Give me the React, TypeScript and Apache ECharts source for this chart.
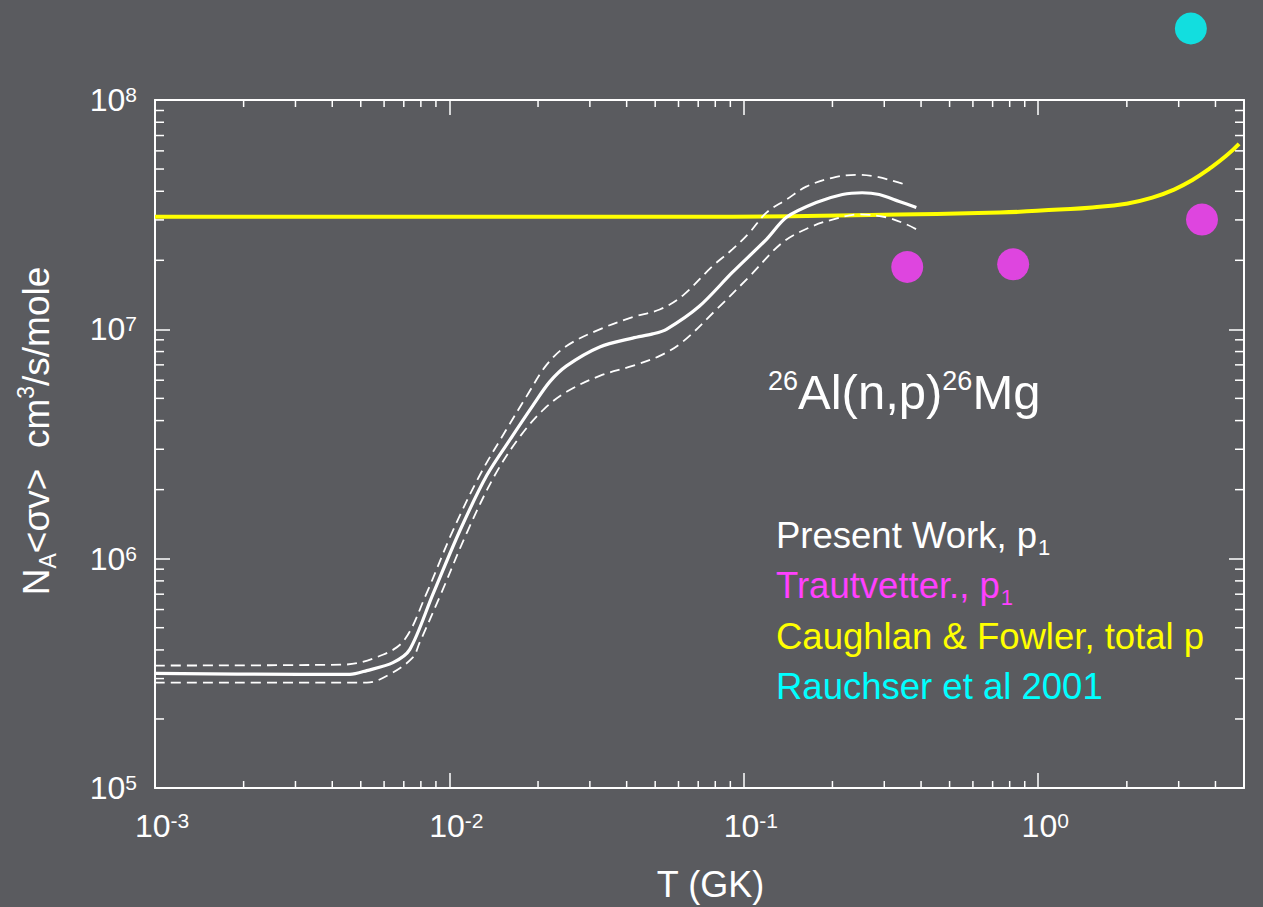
import React, { useEffect, useRef } from 'react';
import * as echarts from 'echarts';

// ---- Data (T in GK, rate in cm^3/s/mole) ----
const presentT = [0.001, 0.0031, 0.00459, 0.00524, 0.00643, 0.00733, 0.00877, 0.01084, 0.0134, 0.0164, 0.0192, 0.0219, 0.025, 0.0324, 0.0419, 0.049, 0.0546, 0.0706, 0.0914, 0.1194, 0.1396, 0.1762, 0.2163, 0.2523, 0.2884, 0.3373, 0.3855];
const presentRate = [3.16e5, 3.13e5, 3.13e5, 3.25e5, 3.52e5, 4.01e5, 6.95e5, 1.32e6, 2.31e6, 3.44e6, 4.65e6, 5.9e6, 6.93e6, 8.38e6, 9.16e6, 9.55e6, 1.0e7, 1.26e7, 1.77e7, 2.47e7, 3.08e7, 3.57e7, 3.87e7, 3.94e7, 3.87e7, 3.61e7, 3.4e7];

const upperT = [0.001, 0.00435, 0.00594, 0.00705, 0.00832, 0.01026, 0.01268, 0.01552, 0.01828, 0.02138, 0.025, 0.0324, 0.0419, 0.0518, 0.0619, 0.0781, 0.0914, 0.1045, 0.1194, 0.1396, 0.1629, 0.2, 0.241, 0.2818, 0.3373, 0.359];
const upperRate = [3.42e5, 3.45e5, 3.81e5, 4.44e5, 6.95e5, 1.32e6, 2.31e6, 3.61e6, 5.1e6, 7.0e6, 8.46e6, 1.0e7, 1.13e7, 1.22e7, 1.4e7, 1.88e7, 2.23e7, 2.64e7, 3.23e7, 3.68e7, 4.19e7, 4.58e7, 4.72e7, 4.63e7, 4.36e7, 4.24e7];

const lowerT = [0.001, 0.00524, 0.00627, 0.0075, 0.00792, 0.00933, 0.01153, 0.01426, 0.01746, 0.02104, 0.025, 0.0324, 0.0419, 0.0518, 0.0619, 0.0807, 0.1045, 0.1352, 0.1671, 0.2, 0.2466, 0.3048, 0.3565, 0.3855];
const lowerRate = [2.88e5, 2.88e5, 3.13e5, 3.7e5, 4.3e5, 6.95e5, 1.32e6, 2.31e6, 3.44e6, 4.51e6, 5.34e6, 6.27e6, 6.93e6, 7.66e6, 8.81e6, 1.22e7, 1.7e7, 2.39e7, 2.78e7, 3.01e7, 3.17e7, 3.08e7, 2.87e7, 2.73e7];

const cfT = [0.001, 0.01, 0.07, 0.3, 0.74, 1.178, 1.525, 1.99, 2.44, 2.94, 3.33, 3.8, 4.35, 4.81];
const cfRate = [3.1e7, 3.1e7, 3.1e7, 3.16e7, 3.23e7, 3.33e7, 3.4e7, 3.53e7, 3.75e7, 4.11e7, 4.47e7, 5.0e7, 5.71e7, 6.44e7];

const trautT = [0.359, 0.822, 3.6];
const trautRate = [1.87e7, 1.92e7, 3.01e7];

const rauscherT = [3.3];
const rauscherRate = [2.05e8];

// ---- Axes ----
const X_MIN = 0.001;
const X_MAX = 5;
const Y_MIN = 1e5;
const Y_MAX = 1e8;
const xMinorTicks = [0.002, 0.003, 0.004, 0.005, 0.006, 0.007, 0.008, 0.009, 0.02, 0.03, 0.04, 0.05, 0.06, 0.07, 0.08, 0.09, 0.2, 0.3, 0.4, 0.5, 0.6, 0.7, 0.8, 0.9, 2, 3, 4];
const yMinorTicks = [2e5, 3e5, 4e5, 5e5, 6e5, 7e5, 8e5, 9e5, 2e6, 3e6, 4e6, 5e6, 6e6, 7e6, 8e6, 9e6, 2e7, 3e7, 4e7, 5e7, 6e7, 7e7, 8e7, 9e7];

const FONT = '"Liberation Sans", Arial, Helvetica, sans-serif';
const WHITE = '#ffffff';
const MAGENTA = '#ff40ff';
const YELLOW = '#ffff00';
const CYAN = '#00ffff';
const BG = '#5a5b5f';

const zip = (a: number[], b: number[]) => a.map((v, i) => [v, b[i]]);

const powLabel = (v: number) => {
  const e = Math.round(Math.log10(v));
  if (Math.abs(Math.pow(10, e) - v) / v > 1e-6) return '';
  return `{b|10}{s|${e}}`;
};

const labelRich = {
  b: { fontSize: 32, color: WHITE, fontFamily: FONT },
  s: { fontSize: 21, color: WHITE, fontFamily: FONT, verticalAlign: 'top' },
};

const legendText = (label: string, sub: string | null, color: string, y: number) => ({
  type: 'text',
  x: 776,
  y,
  style: {
    text: sub ? `{m|${label}}{sub|${sub}}` : `{m|${label}}`,
    verticalAlign: 'middle',
    rich: {
      m: { fontSize: 36.5, fill: color, color, fontFamily: FONT, verticalAlign: 'middle' },
      sub: { fontSize: 22, fill: color, color, fontFamily: FONT, verticalAlign: 'middle', padding: [24, 0, 0, 1] },
    },
  },
});

export default function App() {
  const ref = useRef<HTMLDivElement>(null);
  useEffect(() => {
    if (!ref.current) return;
    const chart = echarts.init(ref.current, undefined, { renderer: 'svg' });
    const tickStyle = { stroke: WHITE, lineWidth: 1.5 };
    const axisBase = {
      type: 'log',
      logBase: 10,
      splitLine: { show: false },
      minorTick: { show: false },
      axisLine: { show: true, lineStyle: { color: WHITE, width: 2 } },
      axisTick: { show: true, inside: true, length: 15, lineStyle: { color: WHITE, width: 1.5 } },
    };
    const dashed = { color: WHITE, width: 1.8, type: [10, 6] };
    chart.setOption({
      animation: false,
      backgroundColor: BG,
      grid: { left: 155, right: 19, top: 100, bottom: 116, containLabel: false },
      xAxis: [
        {
          ...axisBase,
          position: 'bottom',
          min: X_MIN,
          max: X_MAX,
          axisLabel: { formatter: powLabel, margin: 22, rich: labelRich, padding: [0, 0, 0, 14] },
          name: 'T (GK)',
          nameLocation: 'middle',
          nameGap: 78,
          nameTextStyle: { color: WHITE, fontSize: 36, fontFamily: FONT, padding: [0, 0, 0, 22] },
        },
        {
          ...axisBase,
          position: 'top',
          min: X_MIN,
          max: X_MAX,
          axisLabel: { show: false },
        },
      ],
      yAxis: [
        {
          ...axisBase,
          position: 'left',
          min: Y_MIN,
          max: Y_MAX,
          axisLabel: { formatter: powLabel, margin: 18, rich: labelRich },
          name: '{m|N}{sub|A}{m|<σv>  cm}{sup|3}{m|/s/mole}',
          nameLocation: 'middle',
          nameRotate: 90,
          nameGap: 96,
          nameTextStyle: {
            color: WHITE,
            padding: [0, 0, 0, 26],
            rich: {
              m: { fontSize: 37, color: WHITE, fontFamily: FONT },
              sub: { fontSize: 23, color: WHITE, fontFamily: FONT, verticalAlign: 'middle', padding: [22, 0, 0, 0] },
              sup: { fontSize: 23, color: WHITE, fontFamily: FONT, verticalAlign: 'top' },
            },
          },
        },
        {
          ...axisBase,
          position: 'right',
          min: Y_MIN,
          max: Y_MAX,
          axisLabel: { show: false },
        },
      ],
      series: [
        {
          type: 'custom',
          name: 'xMinor',
          silent: true,
          clip: false,
          data: xMinorTicks.map((v) => [v, Y_MIN]),
          renderItem: (_p: any, api: any) => {
            const v = api.value(0);
            const b = api.coord([v, Y_MIN]);
            const t = api.coord([v, Y_MAX]);
            return {
              type: 'group',
              children: [
                { type: 'line', shape: { x1: b[0], y1: b[1], x2: b[0], y2: b[1] - 7 }, style: tickStyle },
                { type: 'line', shape: { x1: t[0], y1: t[1], x2: t[0], y2: t[1] + 7 }, style: tickStyle },
              ],
            };
          },
        },
        {
          type: 'custom',
          name: 'yMinor',
          silent: true,
          clip: false,
          data: yMinorTicks.map((v) => [X_MIN, v]),
          renderItem: (_p: any, api: any) => {
            const v = api.value(1);
            const l = api.coord([X_MIN, v]);
            const r = api.coord([X_MAX, v]);
            return {
              type: 'group',
              children: [
                { type: 'line', shape: { x1: l[0], y1: l[1], x2: l[0] + 9, y2: l[1] }, style: tickStyle },
                { type: 'line', shape: { x1: r[0], y1: r[1], x2: r[0] - 9, y2: r[1] }, style: tickStyle },
              ],
            };
          },
        },
        {
          type: 'line',
          name: 'Caughlan & Fowler, total p',
          data: zip(cfT, cfRate),
          symbol: 'none',
          smooth: 0.5,
          lineStyle: { color: YELLOW, width: 4 },
        },
        {
          type: 'line',
          name: 'upper',
          data: zip(upperT, upperRate),
          symbol: 'none',
          smooth: 0.35,
          lineStyle: dashed,
        },
        {
          type: 'line',
          name: 'lower',
          data: zip(lowerT, lowerRate),
          symbol: 'none',
          smooth: 0.35,
          lineStyle: dashed,
        },
        {
          type: 'line',
          name: 'Present Work, p1',
          data: zip(presentT, presentRate),
          symbol: 'none',
          smooth: 0.3,
          lineStyle: { color: WHITE, width: 3.2 },
        },
        {
          type: 'scatter',
          name: 'Trautvetter., p1',
          data: zip(trautT, trautRate),
          symbol: 'circle',
          symbolSize: 32,
          itemStyle: { color: MAGENTA },
        },
        {
          type: 'scatter',
          name: 'Rauchser et al 2001',
          data: zip(rauscherT, rauscherRate),
          symbol: 'circle',
          symbolSize: 32,
          clip: false,
          itemStyle: { color: CYAN },
        },
      ],
      graphic: [
        {
          type: 'text',
          x: 768,
          y: 392,
          style: {
            text: '{s|26}{b|Al(n,p)}{s|26}{b|Mg}',
            verticalAlign: 'middle',
            rich: {
              b: { fontSize: 49, fill: WHITE, color: WHITE, fontFamily: FONT },
              s: { fontSize: 27, fill: WHITE, color: WHITE, fontFamily: FONT, verticalAlign: 'top' },
            },
          },
        },
        legendText('Present Work, p', '1', WHITE, 535),
        legendText('Trautvetter., p', '1', MAGENTA, 585),
        legendText('Caughlan & Fowler, total p', null, YELLOW, 636),
        legendText('Rauchser et al 2001', null, CYAN, 686),
      ],
    });
    return () => chart.dispose();
  }, []);
  return <div ref={ref} style={{ position: 'fixed', left: 0, top: 0, width: 1263, height: 907 }} />;
}
